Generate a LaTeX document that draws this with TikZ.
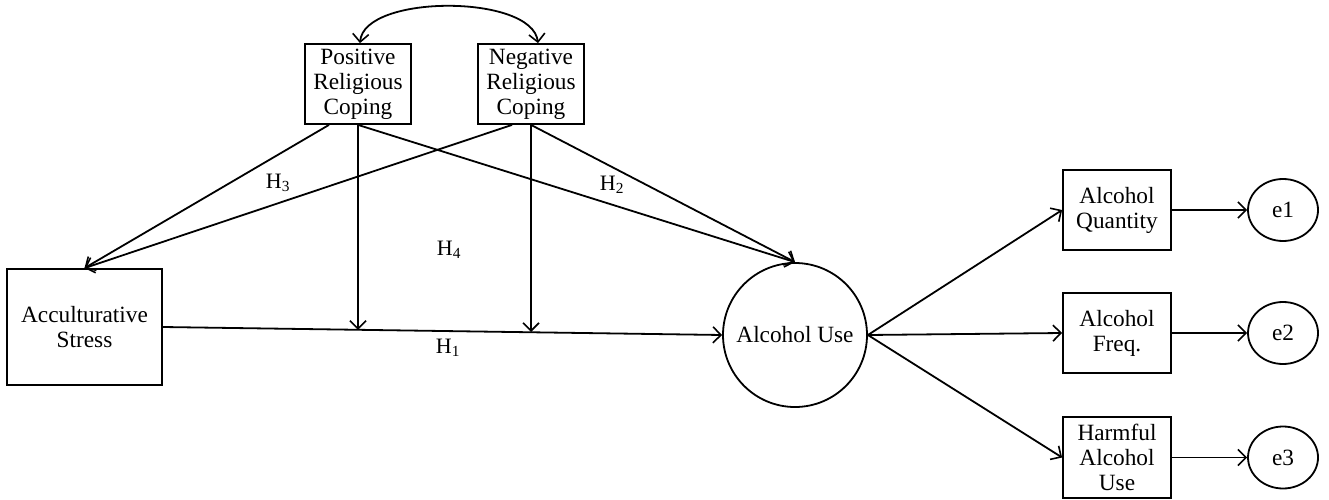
\documentclass[tikz,border=0pt]{standalone}
\usepackage{fontspec}
\setmainfont{Liberation Serif}
\usetikzlibrary{arrows.meta,shapes.geometric}
\begin{document}
\begin{tikzpicture}[x=1pt,y=-1pt,
  line width=1.8pt,
  every node/.style={font=\fontsize{23.3}{25}\selectfont, inner sep=0pt},
  box/.style={draw, rectangle, align=center, line width=1.8pt},
  latent/.style={draw, circle, minimum size=144pt, line width=1.8pt},
  err/.style={draw, ellipse, minimum width=70pt, minimum height=62pt, line width=1.8pt},
  tip/.style={Straight Barb[length=8pt,width=16pt,line width=1.6pt]},
  arr/.style={-{Straight Barb[length=8pt,width=16pt,line width=1.6pt]}},
  dbl/.style={{Straight Barb[length=8pt,width=16pt,line width=1.6pt]}-{Straight Barb[length=8pt,width=16pt,line width=1.6pt]}},
  hlab/.style={font=\fontsize{22}{24}\selectfont}]
\useasboundingbox (0,0) rectangle (1329,500);

\node[box, minimum width=106pt, minimum height=80pt] (pos) at (358,84) {Positive\\Religious\\Coping};
\node[box, minimum width=106pt, minimum height=80pt] (neg) at (531,84) {Negative\\Religious\\Coping};
\node[box, minimum width=155pt, minimum height=116pt] (acc) at (84.5,327) {Acculturative\\Stress};
\node[latent] (alc) at (795,335) {Alcohol Use};
\node[box, minimum width=108pt, minimum height=80pt] (qty) at (1117,210) {Alcohol\\Quantity};
\node[box, minimum width=108pt, minimum height=80pt] (frq) at (1117,333) {Alcohol\\Freq.};
\node[box, minimum width=108pt, minimum height=81pt] (hrm) at (1117,457.5) {Harmful\\Alcohol\\Use};
\node[err] (e1) at (1283,210) {e1};
\node[err] (e2) at (1283,333) {e2};
\node[err] (e3) at (1283,457.5) {e3};

\coordinate (m1) at (358,329.8);
\coordinate (m2) at (531,332);

% covariance
\draw[dbl] ([xshift=2pt]pos.north) .. controls (364,-6) and (532,-6) .. ([xshift=7pt]neg.north);

% main path
\draw[arr] (acc.east) -- (alc.west);
\node[hlab] (h1) at (448,348) {H\textsubscript{1}};

% from positive
\draw[arr] ([xshift=-29pt]pos.south) -- (acc.north);
\draw[arr] (pos.south) -- (m1);
\draw[arr] (pos.south) -- (alc.north);
% from negative
\draw[arr] ([xshift=-19pt]neg.south) -- (acc.north);
\draw[arr] (neg.south) -- (m2);
\draw[arr] (neg.south) -- (alc.north);

\node[hlab] (h3) at (278,183) {H\textsubscript{3}};
\node[hlab] (h2) at (612,185) {H\textsubscript{2}};
\node[hlab] (h4) at (449,250) {H\textsubscript{4}};

% indicators
\draw[arr] (alc.east) -- (qty.west);
\draw[arr] (alc.east) -- (frq.west);
\draw[arr] (alc.east) -- (hrm.west);
\draw[arr] (qty.east) -- (e1.west);
\draw[arr] (frq.east) -- (e2.west);
\draw[arr] (hrm.east) -- (e3.west);
\end{tikzpicture}
\end{document}
